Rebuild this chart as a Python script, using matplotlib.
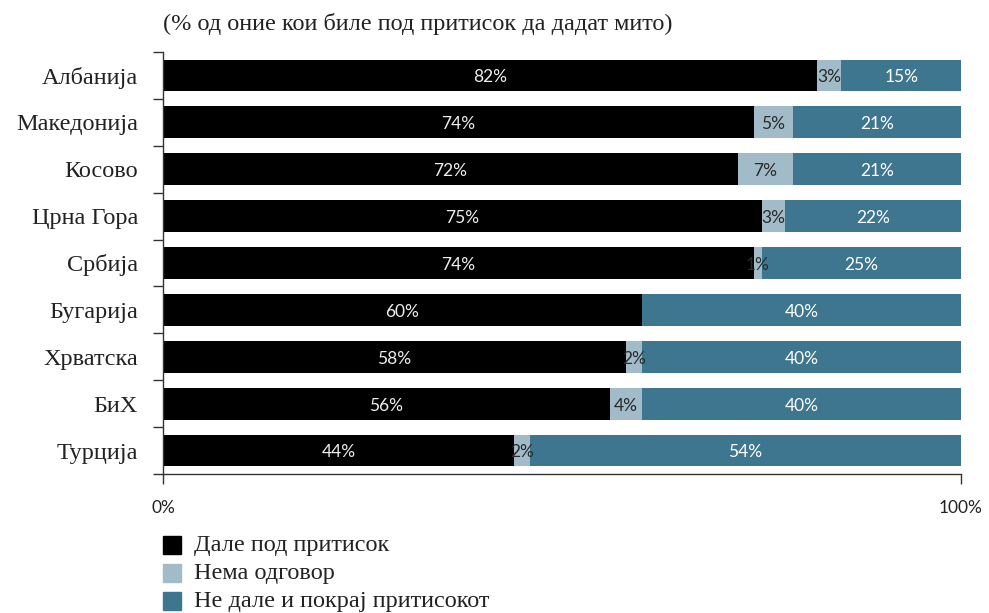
import matplotlib
matplotlib.use('Agg')
import matplotlib.pyplot as plt
from matplotlib.patches import Rectangle

# ── Data ─────────────────────────────────────────────────────────────────────
countries = ['Албанија', 'Македонија', 'Косово', 'Црна Гора', 'Србија',
             'Бугарија', 'Хрватска', 'БиХ', 'Турција']
gave      = [82, 74, 72, 75, 74, 60, 58, 56, 44]
no_answer = [3, 5, 7, 3, 1, 0, 2, 4, 2]
refused   = [15, 21, 21, 22, 25, 40, 40, 40, 54]

series_names = ['Дале под притисок', 'Нема одговор', 'Не дале и покрај притисокот']

# ── Style ────────────────────────────────────────────────────────────────────
BLACK = '#000000'; LIGHT = '#a1bbc9'; TEAL = '#3e758f'; INK = '#222222'
SERIF = ['Liberation Serif', 'DejaVu Serif']
NUMF  = ['Lato', 'DejaVu Sans']

W, H = 989, 613
fig = plt.figure(figsize=(W / 100, H / 100), dpi=100)
ax = fig.add_axes([163/W, 1 - 474/H, (961 - 163)/W, (474 - 52)/H])

ypos = list(range(len(countries)))
left2 = [g + n for g, n in zip(gave, no_answer)]

ax.barh(ypos, gave, height=0.68, color=BLACK, lw=0)
ax.barh(ypos, no_answer, left=gave, height=0.68, color=LIGHT, lw=0)
ax.barh(ypos, refused, left=left2, height=0.68, color=TEAL, lw=0)

# value labels centred in each segment
for i in ypos:
    segs = [(0, gave[i], '#eeeeee'),
            (gave[i], no_answer[i], '#2a2a2a'),
            (left2[i], refused[i], 'white')]
    for start, w, col in segs:
        if w < 1:
            continue
        ax.text(start + w / 2, i + 0.04, f'{w}%', ha='center', va='center',
                color=col, fontsize=12.5, family=NUMF)

ax.set_xlim(0, 100)
ax.set_ylim(len(countries) - 0.5, -0.5)

# y ticks sit between the bars; category names are minor ticks at centres
ax.set_yticks([i - 0.5 for i in range(len(countries) + 1)])
ax.set_yticklabels([])
ax.set_yticks(ypos, minor=True)
ax.set_yticklabels(countries, minor=True, family=SERIF, fontsize=17.5,
                   color=INK)
ax.tick_params(axis='y', which='major', length=7, width=1, color='#333333')
ax.tick_params(axis='y', which='minor', length=0, pad=18)

ax.set_xticks([0, 100])
ax.set_xticklabels(['0%', '100%'], family=NUMF, fontsize=12.5, color=INK)
ax.tick_params(axis='x', length=7, width=1, color='#333333', pad=12)

for side in ['top', 'right']:
    ax.spines[side].set_visible(False)
for side in ['left', 'bottom']:
    ax.spines[side].set_color('#333333')
    ax.spines[side].set_linewidth(1)

fig.text(163/W, 1 - 24/H, '(% од оние кои биле под притисок да дадат мито)',
         ha='left', va='center', family=SERIF, fontsize=17.5, color=INK)

# legend: colour squares with labels, one row each
for k, (name, col) in enumerate(zip(series_names, [BLACK, LIGHT, TEAL])):
    yc = 545 + 28 * k
    fig.patches.append(Rectangle((163/W, 1 - (yc + 9)/H), 18/W, 18/H,
                                 color=col, transform=fig.transFigure,
                                 figure=fig))
    fig.text(194/W, 1 - yc/H, name, ha='left', va='center', family=SERIF,
             fontsize=17.5, color=INK)

fig.savefig('out.png', dpi=100, facecolor='white')
